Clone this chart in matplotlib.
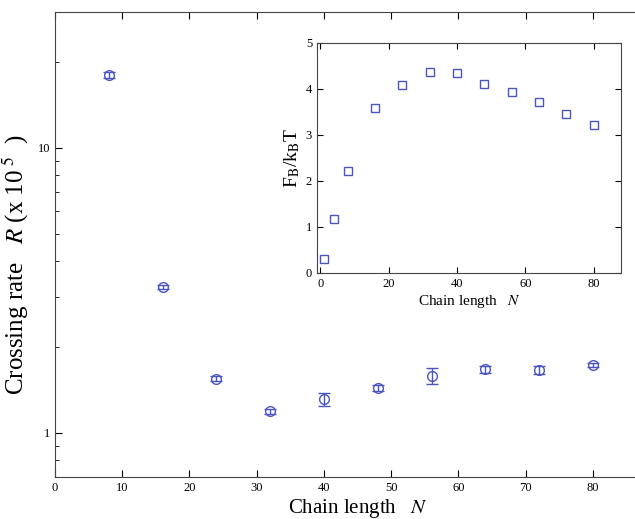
import numpy as np
import matplotlib.pyplot as plt

plt.rcParams['font.family'] = ['Liberation Serif', 'DejaVu Serif']
plt.rcParams['mathtext.fontset'] = 'stix'

# crossing rate vs chain length (main panel, log scale)
chain_n = [8, 16, 24, 32, 40, 48, 56, 64, 72, 80]
rate = [18.0, 3.25, 1.55, 1.19, 1.31, 1.44, 1.585, 1.67, 1.66, 1.73]
rate_err = [0.4, 0.06, 0.03, 0.025, 0.07, 0.035, 0.1, 0.045, 0.05, 0.03]

# barrier free energy vs chain length (inset)
inset_n = [1, 4, 8, 16, 24, 32, 40, 48, 56, 64, 72, 80]
barrier = [0.30, 1.17, 2.22, 3.57, 4.08, 4.37, 4.34, 4.10, 3.92, 3.70, 3.45, 3.22]

blue = '#4a55c0'

fig = plt.figure(figsize=(6.35, 5.19), dpi=100)
ax = fig.add_axes([0.0866, 0.081, 0.953, 0.896])

ax.errorbar(chain_n, rate, yerr=rate_err, fmt='o', mfc='none', mec=blue,
            ecolor=blue, ms=7, mew=1.0, elinewidth=1.0, capsize=4, capthick=1.0)
ax.set_yscale('log')
ax.set_xlim(0, 90)
ax.set_ylim(0.70, 30)
ax.set_xticks(np.arange(0, 90, 10))
ax.set_yticks([1, 10])
ax.set_yticklabels(['1', '10'])
ax.tick_params(which='both', direction='in', top=True, right=True, labelsize=9)
ax.tick_params(which='major', length=5)
ax.tick_params(which='minor', length=3)
ax.set_xlabel('Chain length   $N$', fontsize=15, labelpad=2)
ax.set_ylabel('Crossing rate   $R$ (x 10$^{\\ 5}$  )', fontsize=18)
ax.yaxis.set_label_coords(-0.040, 0.456)
for s in ax.spines.values():
    s.set_color('#444444')

# inset
ins = fig.add_axes([0.499, 0.474, 0.479, 0.444])
ins.plot(inset_n, barrier, 's', mfc='none', mec=blue, ms=6, mew=1.0)
ins.set_xlim(-1, 88)
ins.set_ylim(0, 5)
ins.set_xticks([0, 20, 40, 60, 80])
ins.set_yticks([0, 1, 2, 3, 4, 5])
ins.tick_params(direction='in', top=True, right=True, labelsize=9, length=4)
ins.set_xlabel('Chain length   $N$', fontsize=11, labelpad=2)
ins.set_ylabel('F$_\\mathrm{B}$/k$_\\mathrm{B}$T', fontsize=14, labelpad=3)
for s in ins.spines.values():
    s.set_color('#444444')

fig.savefig('out.png', dpi=100)
